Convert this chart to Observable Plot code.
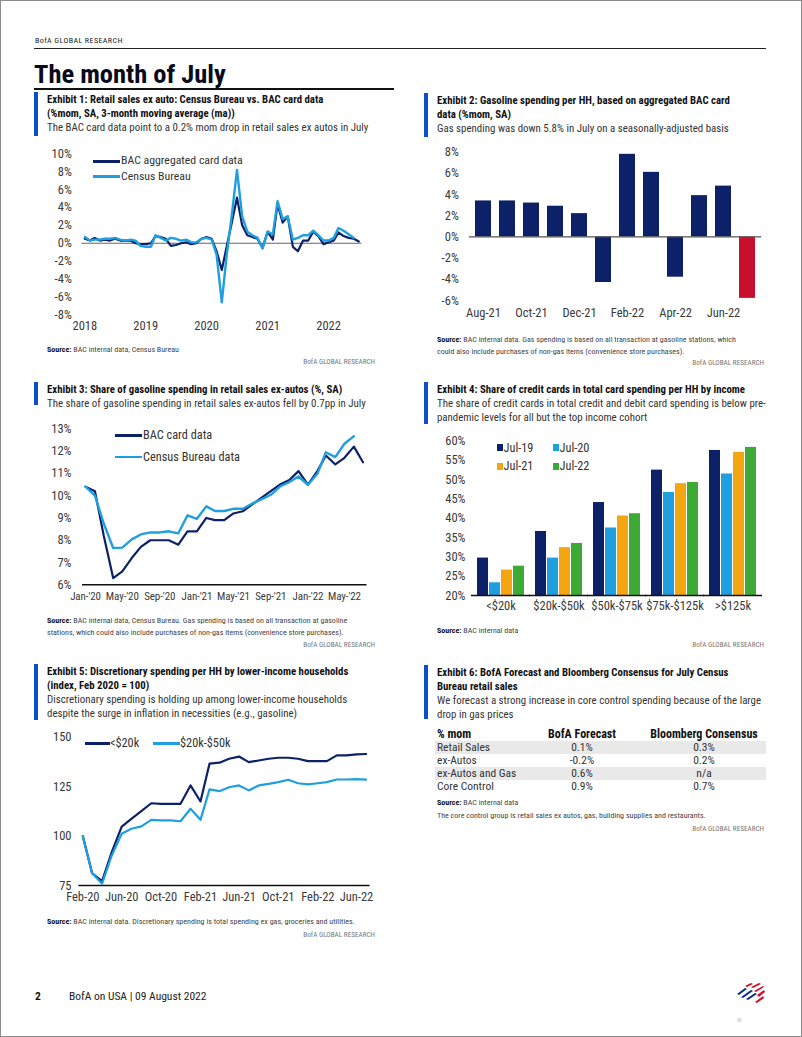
<!DOCTYPE html>
<html><head><meta charset="utf-8">
<script src="https://cdn.jsdelivr.net/npm/d3@7"></script>
<script src="https://cdn.jsdelivr.net/npm/@observablehq/plot@0.6"></script>
<style>
html,body{margin:0;padding:0;background:#fff;}
body{width:802px;height:1037px;position:relative;overflow:hidden;font-family:"Liberation Sans Narrow","Roboto Condensed","DejaVu Sans Condensed","Liberation Sans",sans-serif;color:#222;}
#frame{position:absolute;left:0;top:0;width:800px;height:1035px;border:1px solid #8c8c8c;}
.t{position:absolute;white-space:nowrap;}
.chart{position:absolute;}
.chart svg{display:block;overflow:visible;}
.bb{position:absolute;background:#0b50c8;width:4px;}
.hr{position:absolute;background:#222;}
.leg{position:absolute;height:2.6px;}
.sq{position:absolute;width:6px;height:7px;}
table.tb{position:absolute;left:435px;top:728px;border-collapse:collapse;font-size:11.5px;color:#333;}
table.tb td{height:13px;padding:0;line-height:13px;white-space:nowrap;}
table.tb tr.h td{font-weight:bold;color:#111;font-size:12px;}
table.tb tr.s td{background:#e9e9e9;}
</style></head>
<body><div id="frame"></div>
<script>
// ---------- DATA ----------
// Exhibit 1: monthly, Jan 2018 - Jul 2022 (3mma, %mom)
const ex1Bac = [0.5,0.3,0.6,0.3,0.4,0.3,0.5,0.3,0.3,0.3,
  0.0,-0.1,-0.1,0.0,0.8,0.7,0.5,-0.3,-0.2,0.0,
  0.1,-0.1,0.0,0.5,0.7,0.5,-0.9,-3.0,-0.3,2.4,
  5.1,2.0,0.9,0.7,0.5,-0.5,1.3,0.4,4.4,2.3,
  3.0,-0.4,-0.9,0.3,0.3,1.3,0.8,-0.1,0.1,0.3,
  1.2,0.8,0.6,0.5,0.2];
const ex1Census = [0.7,0.3,0.4,0.4,0.5,0.5,0.6,0.4,0.3,0.4,
  0.3,-0.3,-0.4,-0.4,0.9,0.6,0.3,0.6,0.5,0.3,
  0.4,0.1,0.1,0.5,0.6,0.4,-1.3,-6.6,-1.2,3.3,
  8.2,3.0,1.3,0.9,0.6,-0.6,1.3,1.0,4.7,2.7,
  3.0,0.4,0.6,0.9,0.9,1.4,0.9,0.3,0.3,0.6,
  1.7,1.4,1.0,0.6];
const ex1YearTicks = [2018, 2019, 2020, 2021, 2022];

// Exhibit 2
const ex2Months = ["Aug-21","Sep-21","Oct-21","Nov-21","Dec-21","Jan-22","Feb-22","Mar-22","Apr-22","May-22","Jun-22","Jul-22"];
const ex2Values = [3.4,3.4,3.2,2.9,2.2,-4.3,7.8,6.1,-3.8,3.9,4.8,-5.8];
const ex2Highlight = ["Jul-22"];

// Exhibit 3: monthly, Jan 2020 - Jul 2022
const ex3Bac = [10.4,10.2,8.2,6.3,6.6,7.2,7.7,8.0,8.0,8.0,7.8,8.4,8.4,9.0,8.9,8.9,9.2,9.3,9.6,9.9,10.2,10.5,10.7,11.1,10.5,11.1,11.8,11.4,11.7,12.2,11.5];
const ex3Census = [10.4,10.0,8.75,7.65,7.67,8.04,8.26,8.35,8.35,8.4,8.31,9.11,8.96,9.52,9.31,9.31,9.41,9.41,9.64,9.83,10.04,10.41,10.61,10.86,10.49,10.98,11.95,11.73,12.33,12.67];

// Exhibit 4
const ex4Groups = ["<$20k","$20k-$50k","$50k-$75k","$75k-$125k",">$125k"];
const ex4Years = ["Jul-19","Jul-20","Jul-21","Jul-22"];
const ex4Jul19 = [29.7,36.6,44.1,52.5,57.6];
const ex4Jul20 = [23.3,29.7,37.5,46.7,51.5];
const ex4Jul21 = [26.6,32.4,40.6,49.0,57.1];
const ex4Jul22 = [27.6,33.5,41.2,49.3,58.4];

// Exhibit 5: monthly, Feb 2020 - Jul 2022
const ex5Low = [100,81.2,77.2,91.9,104.8,108.7,112.6,116.6,116.3,116.3,116.3,125.6,117.5,136.6,137.1,139.1,140.2,137.4,138.2,139.1,139.6,139.6,139.1,137.9,137.9,137.9,140.8,140.8,141.3,141.5];
const ex5Mid = [100,81.2,75.9,90.2,101.2,103.7,104.9,108.2,107.9,107.9,107.5,113.8,108.2,123.6,122.7,124.7,125.6,123.1,125.6,126.4,127.3,128.5,126.7,126.1,126.7,127.3,128.6,128.6,128.8,128.5];

// Exhibit 6
const ex6Rows = ["Retail Sales","ex-Autos","ex-Autos and Gas","Core Control"];
const ex6BofA = ["0.1%","-0.2%","0.6%","0.9%"];
const ex6Bbg = ["0.3%","0.2%","n/a","0.7%"];

// ---------- STYLE ----------
const FONT = '"Liberation Sans Narrow","Roboto Condensed","DejaVu Sans Condensed","Liberation Sans",sans-serif';
const NAVY = "#0c2167", LIGHT = "#1f9fdf", RED = "#c8102e", ORANGE = "#f4a610", GREEN = "#3eaa36";
const body = document.body;

function T(x, yc, html, size, o = {}) {
  const d = document.createElement("div");
  d.className = "t";
  d.style.fontSize = size + "px";
  const lh = Math.round(size * 1.3);
  d.style.lineHeight = lh + "px";
  d.style.top = (yc - lh / 2) + "px";
  if (o.right) d.style.right = (802 - x) + "px"; else d.style.left = x + "px";
  if (o.bold) d.style.fontWeight = "bold";
  d.style.color = o.color || "#222";
  if (o.ls != null) d.style.letterSpacing = o.ls + "px";
  d.innerHTML = html;
  body.appendChild(d);
  return d;
}
function box(cls, x, y, w, h, bg) {
  const d = document.createElement("div");
  d.className = cls;
  d.style.left = x + "px"; d.style.top = y + "px";
  if (w != null) d.style.width = w + "px";
  if (h != null) d.style.height = h + "px";
  if (bg) d.style.background = bg;
  body.appendChild(d);
  return d;
}
function place(svg, x, y, id) {
  const d = document.createElement("div");
  d.className = "chart";
  if (id) d.id = id;
  d.style.left = x + "px"; d.style.top = y + "px";
  d.appendChild(svg);
  body.appendChild(d);
}
const pstyle = {background: "none", fontFamily: FONT, fontSize: "12.5px", color: "#3a3a3a", overflow: "visible"};
const TITLE = 10.8, SUB = 10.9, SRC = 8.0;
function header(x, y0, titleLines, subLines, barH) {
  box("bb", x - 13, y0 - 8, 4, barH);
  let y = y0;
  titleLines.forEach(s => { T(x, y, s, TITLE, {bold: true, color: "#111"}); y += 14; });
  subLines.forEach(s => { T(x, y, s, SUB, {color: "#333"}); y += 14; });
}
const SRCB = '<b style="color:#111">Source:</b> ';
const BOFA = "BofA GLOBAL RESEARCH";
function credit(xr, y) { T(xr, y, BOFA, 7.2, {right: true, color: "#777", ls: 0}); }

// ---------- PAGE HEADER ----------
T(35, 41, BOFA, 8, {color: "#222", ls: 0.4});
box("hr", 34, 47.5, 732, 1);
T(34, 74, "The month of July", 26.5, {bold: true, color: "#0a0a1a"});
box("hr", 34, 88, 360, 2, "#111");

// ---------- EXHIBIT 1 ----------
header(47, 100, ["Exhibit 1: Retail sales ex auto: Census Bureau vs. BAC card data", "(%mom, SA, 3-month moving average (ma))"],
  ["The BAC card data point to a 0.2% mom drop in retail sales ex autos in July"], 44);
{
  const start = new Date(Date.UTC(2018, 0, 1));
  const dates = d3.utcMonth.range(start, new Date(Date.UTC(2022, 7, 1)));
  const bac = ex1Bac.map((v, i) => ({date: dates[i], value: v}));
  const cen = ex1Census.map((v, i) => ({date: dates[i], value: v}));
  const svg = Plot.plot({
    width: 345, height: 200, marginLeft: 49.3, marginRight: 21.7, marginTop: 13.3, marginBottom: 25.7,
    style: pstyle,
    x: {type: "utc", domain: [start, dates[dates.length - 1]], ticks: ex1YearTicks.map(y => new Date(Date.UTC(y, 0, 1))),
        tickFormat: "%Y", tickSize: 0, tickPadding: 6, label: null},
    y: {domain: [-8, 10], ticks: d3.range(-8, 11, 2), tickFormat: d => d + "%", tickSize: 0, tickPadding: 13, label: null},
    marks: [
      Plot.ruleY([0], {stroke: "#666", strokeWidth: 1.2, insetLeft: -3, insetRight: -3}),
      Plot.line(bac, {x: "date", y: "value", stroke: NAVY, strokeWidth: 2.2, strokeLinejoin: "round"}),
      Plot.line(cen, {x: "date", y: "value", stroke: LIGHT, strokeWidth: 2.4, strokeLinejoin: "round"})
    ]
  });
  place(svg, 35, 140, "ex1");
  box("leg", 93, 160, 27, null, NAVY);
  T(121, 160.5, "BAC aggregated card data", 11.8, {color: "#333"});
  box("leg", 93, 175, 27, null, LIGHT);
  T(121, 176, "Census Bureau", 11.8, {color: "#333"});
  T(47, 350, SRCB + "BAC internal data, Census Bureau", SRC, {color: "#444"});
  credit(375, 361.5);
}

// ---------- EXHIBIT 2 ----------
header(437, 101, ["Exhibit 2: Gasoline spending per HH, based on aggregated BAC card", "data (%mom, SA)"],
  ["Gas spending was down 5.8% in July on a seasonally-adjusted basis"], 44);
{
  const rows = ex2Months.map((m, i) => ({month: m, value: ex2Values[i]}));
  const svg = Plot.plot({
    width: 360, height: 190, marginLeft: 53.8, marginRight: 13.8, marginTop: 11.7, marginBottom: 30,
    style: pstyle,
    x: {type: "band", domain: ex2Months, paddingInner: 0.34, paddingOuter: 0.17,
        ticks: ex2Months.filter((d, i) => i % 2 === 0), tickSize: 0, tickPadding: 8, label: null},
    y: {domain: [-6, 8], ticks: d3.range(-6, 9, 2), tickFormat: d => d + "%", tickSize: 0, tickPadding: 10.5, label: null},
    marks: [
      Plot.barY(rows.filter(d => !ex2Highlight.includes(d.month)), {x: "month", y: "value", fill: NAVY}),
      Plot.barY(rows.filter(d => ex2Highlight.includes(d.month)), {x: "month", y: "value", fill: RED}),
      Plot.ruleY([0], {stroke: "#555", strokeWidth: 1.2})
    ]
  });
  place(svg, 415, 140, "ex2");
  T(437, 339.5, SRCB + "BAC internal data. Gas spending is based on all transaction at gasoline stations, which", SRC, {color: "#444"});
  T(437, 351.5, "could also include purchases of non-gas items (convenience store purchases).", SRC, {color: "#444"});
  credit(764, 362);
}

// ---------- EXHIBIT 3 ----------
header(47, 390, ["Exhibit 3: Share of gasoline spending in retail sales ex-autos (%, SA)"],
  ["The share of gasoline spending in retail sales ex-autos fell by 0.7pp in July"], 23);
{
  const start = new Date(Date.UTC(2020, 0, 1));
  const dates = d3.utcMonth.range(start, new Date(Date.UTC(2022, 7, 1)));
  const bac = ex3Bac.map((v, i) => ({date: dates[i], value: v}));
  const cen = ex3Census.map((v, i) => ({date: dates[i], value: v}));
  const fmt = d => d3.utcFormat("%b")(d) + "-'" + d3.utcFormat("%y")(d);
  const svg = Plot.plot({
    width: 345, height: 200, marginLeft: 50, marginRight: 17.5, marginTop: 13.3, marginBottom: 30.7,
    style: pstyle,
    x: {type: "utc", domain: [start, dates[dates.length - 1]], ticks: dates.filter((d, i) => i % 4 === 0),
        tickFormat: fmt, tickSize: 0, tickPadding: 7, label: null},
    y: {domain: [6, 13], ticks: d3.range(6, 14, 1), tickFormat: d => d + "%", tickSize: 0, tickPadding: 14, label: null},
    marks: [
      Plot.ruleY([6], {stroke: "#111", strokeWidth: 1.5, insetLeft: -3, insetRight: -4}),
      Plot.line(bac, {x: "date", y: "value", stroke: NAVY, strokeWidth: 2.2, strokeLinejoin: "round"}),
      Plot.line(cen, {x: "date", y: "value", stroke: LIGHT, strokeWidth: 2.4, strokeLinejoin: "round"})
    ]
  });
  // the month labels of this axis are set in a slightly smaller size so that they do not touch
  svg.querySelectorAll("text").forEach(t => {
    if (t.textContent.includes("'")) { t.style.fontSize = "11px"; t.style.letterSpacing = "-0.1px"; }
  });
  place(svg, 35, 415, "ex3");
  box("leg", 115, 434, 27, null, NAVY);
  T(143, 435, "BAC card data", 12.3, {color: "#333"});
  box("leg", 115, 455.5, 27, null, LIGHT);
  T(143, 456.5, "Census Bureau data", 12.3, {color: "#333"});
  T(47, 620.5, SRCB + "BAC internal data, Census Bureau. Gas spending is based on all transaction at gasoline", SRC, {color: "#444"});
  T(47, 632.5, "stations, which could also include purchases of non-gas items (convenience store purchases).", SRC, {color: "#444"});
  credit(375, 644);
}

// ---------- EXHIBIT 4 ----------
header(437, 390, ["Exhibit 4: Share of credit cards in total card spending per HH by income"],
  ["The share of credit cards in total credit and debit card spending is below pre-", "pandemic levels for all but the top income cohort"], 42);
{
  const series = [ex4Jul19, ex4Jul20, ex4Jul21, ex4Jul22];
  const rows = [];
  ex4Groups.forEach((g, gi) => ex4Years.forEach((y, yi) => rows.push({group: g, year: y, value: series[yi][gi]})));
  const colors = [NAVY, LIGHT, ORANGE, GREEN];
  const svg = Plot.plot({
    width: 360, height: 190, marginLeft: 56, marginRight: 13.7, marginTop: 10.7, marginBottom: 25,
    style: pstyle,
    facet: {data: rows, x: "group"},
    fx: {domain: ex4Groups, paddingInner: 0.12, paddingOuter: 0.06, axis: "bottom", tickSize: 0, tickPadding: 6, label: null},
    x: {domain: ex4Years, padding: 0.06, axis: null},
    y: {domain: [20, 60], ticks: d3.range(20, 61, 5), tickFormat: d => d + "%", tickSize: 0, tickPadding: 10, label: null},
    color: {domain: ex4Years, range: colors},
    marks: [
      Plot.barY(rows, {x: "year", y1: 20, y2: "value", fill: "year"}),
      Plot.ruleY([20], {stroke: "#111", strokeWidth: 1.5, insetLeft: -4, insetRight: -4})
    ]
  });
  place(svg, 415, 430, "ex4");
  const lx = [497, 553], ly = [447.5, 466];
  ex4Years.forEach((y, i) => {
    const x = lx[i % 2], yy = ly[Math.floor(i / 2)];
    box("sq", x, yy - 3.5, null, null, colors[i]);
    T(x + 6.5, yy, y, 12.3, {color: "#333"});
  });
  T(437, 631, SRCB + "BAC internal data", SRC, {color: "#444"});
  credit(764, 644);
}

// ---------- EXHIBIT 5 ----------
header(47, 672, ["Exhibit 5: Discretionary spending per HH by lower-income households", "(index, Feb 2020 = 100)"],
  ["Discretionary spending is holding up among lower-income households", "despite the surge in inflation in necessities (e.g., gasoline)"], 56);
{
  const start = new Date(Date.UTC(2020, 1, 1));
  const dates = d3.utcMonth.range(start, new Date(Date.UTC(2022, 7, 1)));
  const low = ex5Low.map((v, i) => ({date: dates[i], value: v}));
  const mid = ex5Mid.map((v, i) => ({date: dates[i], value: v}));
  const svg = Plot.plot({
    width: 345, height: 190, marginLeft: 47.3, marginRight: 14.4, marginTop: 11.7, marginBottom: 30,
    style: pstyle,
    x: {type: "utc", domain: [start, dates[dates.length - 1]], ticks: dates.filter((d, i) => i % 4 === 0),
        tickFormat: "%b-%y", tickSize: 0, tickPadding: 7, label: null},
    y: {domain: [75, 150], ticks: [75, 100, 125, 150], tickSize: 0, tickPadding: 11.3, label: null},
    marks: [
      Plot.ruleY([75], {stroke: "#111", strokeWidth: 1.5, insetLeft: -4, insetRight: -4}),
      Plot.line(low, {x: "date", y: "value", stroke: NAVY, strokeWidth: 2.2, strokeLinejoin: "round"}),
      Plot.line(mid, {x: "date", y: "value", stroke: LIGHT, strokeWidth: 2.2, strokeLinejoin: "round"})
    ]
  });
  place(svg, 35, 725, "ex5");
  box("leg", 85, 742, 25, null, NAVY);
  T(110, 743, "&lt;$20k", 12.3, {color: "#333"});
  box("leg", 153, 742, 27, null, LIGHT);
  T(180, 743, "$20k-$50k", 12.3, {color: "#333"});
  T(47, 921.5, SRCB + "BAC internal data. Discretionary spending is total spending ex gas, groceries and utilities.", SRC, {color: "#444"});
  credit(375, 934);
}

// ---------- EXHIBIT 6 ----------
header(437, 673, ["Exhibit 6: BofA Forecast and Bloomberg Consensus for July Census", "Bureau retail sales"],
  ["We forecast a strong increase in core control spending because of the large", "drop in gas prices"], 54);
{
  const tb = document.createElement("table");
  tb.className = "tb";
  let html = '<tr class="h"><td style="width:85px;padding-left:2px">% mom</td><td style="width:120px;text-align:center">BofA Forecast</td><td style="width:124px;text-align:center">Bloomberg Consensus</td></tr>';
  ex6Rows.forEach((r, i) => {
    html += `<tr class="${i % 2 === 0 ? "s" : ""}"><td style="padding-left:2px">${r}</td><td style="text-align:center">${ex6BofA[i]}</td><td style="text-align:center">${ex6Bbg[i]}</td></tr>`;
  });
  tb.innerHTML = html;
  body.appendChild(tb);
  T(437, 803, SRCB + "BAC internal data", SRC, {color: "#444"});
  T(437, 816, "The core control group is retail sales ex autos, gas, building supplies and restaurants.", SRC, {color: "#444"});
  credit(764, 828);
}

// ---------- FOOTER ----------
T(35, 996, "2", 11.5, {bold: true, color: "#111"});
T(69, 996, "BofA on USA | 09 August 2022", 11.5, {color: "#222"});
{
  const ns = "http://www.w3.org/2000/svg";
  const s = document.createElementNS(ns, "svg");
  s.setAttribute("width", 34); s.setAttribute("height", 24);
  s.style.position = "absolute"; s.style.left = "733px"; s.style.top = "982px";
  const stripes = [
    ["M4 12 L12 6 L14 7 L6 13 Z", "#0c2d83"], ["M8 15 L18 8 L20 9 L10 16 Z", "#0c2d83"], ["M13 17 L22 11 L24 12 L15 18 Z", "#0c2d83"],
    ["M12 4 L18 1 L20 2 L14 5 Z", "#d0112b"], ["M18 5 L26 1 L28 2 L20 6 Z", "#d0112b"], ["M21 9 L30 4 L31 5 L23 10 Z", "#d0112b"],
    ["M24 13 L31 8 L32 10 L26 15 Z", "#d0112b"], ["M22 20 L30 14 L31 16 L24 21 Z", "#d0112b"]
  ];
  stripes.forEach(([d, c]) => { const p = document.createElementNS(ns, "path"); p.setAttribute("d", d); p.setAttribute("fill", c); s.appendChild(p); });
  body.appendChild(s);
}
T(737, 1020, "W", 6, {color: "#bbb"});
</script>
</body></html>
